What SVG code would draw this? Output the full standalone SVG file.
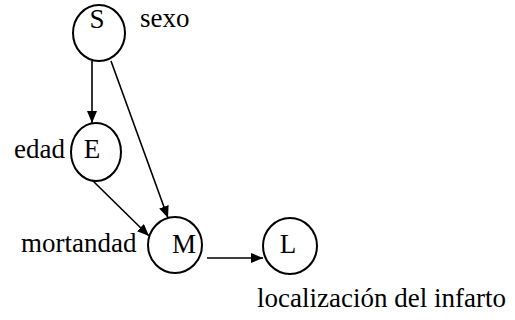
<svg xmlns="http://www.w3.org/2000/svg" width="515" height="320" viewBox="0 0 515 320">
  <style>
    .node { fill: none; stroke: #000; stroke-width: 2; }
    .edge { stroke: #000; stroke-width: 1.6; fill: none; marker-end: url(#arrow); }
    .lbl { font-family: "Liberation Serif", "Times New Roman", serif; font-size: 27px; fill: #000; }
    .mid { text-anchor: middle; }
  </style>
  <defs>
    <marker id="arrow" markerUnits="userSpaceOnUse" markerWidth="13" markerHeight="11" refX="12" refY="5" orient="auto">
      <path d="M0,0 L12,5 L0,10 z" fill="#000"/>
    </marker>
  </defs>

  <g id="connectors">
    <line class="edge" x1="92" y1="61" x2="92" y2="123"/>
    <line class="edge" x1="111" y1="61" x2="168" y2="218"/>
    <line class="edge" x1="92" y1="180" x2="149" y2="236"/>
    <line class="edge" x1="207" y1="258" x2="263" y2="258"/>
  </g>

  <g id="node-S">
    <ellipse class="node" cx="99" cy="33" rx="26" ry="28"/>
    <text class="lbl mid" x="97" y="28">S</text>
    <text class="lbl" x="140" y="27">sexo</text>
  </g>

  <g id="node-E">
    <ellipse class="node" cx="96" cy="152" rx="25" ry="29"/>
    <text class="lbl mid" x="92" y="158">E</text>
    <text class="lbl" x="14" y="158">edad</text>
  </g>

  <g id="node-M">
    <ellipse class="node" cx="175" cy="245" rx="27" ry="28"/>
    <text class="lbl mid" x="184" y="253">M</text>
    <text class="lbl" x="21" y="252">mortandad</text>
  </g>

  <g id="node-L">
    <ellipse class="node" cx="290" cy="246" rx="27" ry="28"/>
    <text class="lbl mid" x="288" y="253">L</text>
    <text class="lbl" x="257" y="307">localización del infarto</text>
  </g>
</svg>
